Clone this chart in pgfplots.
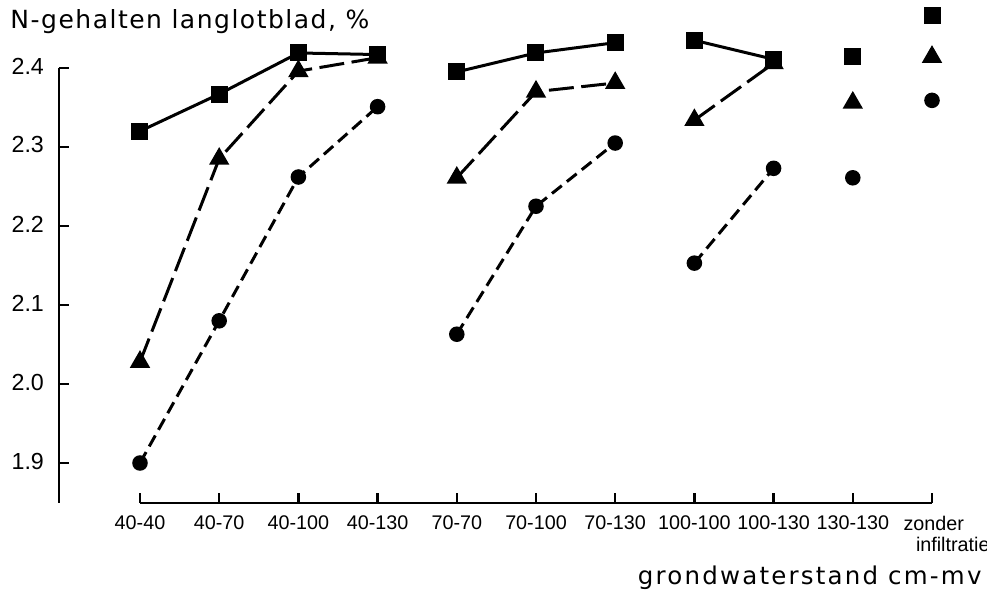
\documentclass[border=0pt]{standalone}
\usepackage{fontspec}
\setmainfont{Liberation Sans}
\newfontfamily\lettering[LetterSpace=6]{DejaVu Sans}
\newfontfamily\letteringx[LetterSpace=9]{DejaVu Sans}
\usepackage{pgfplots}
\pgfplotsset{compat=1.18}
\begin{document}
\begin{tikzpicture}
\begin{axis}[
  name=ax,
  scale only axis,
  width=349.2pt, height=174pt,
  xmin=-1.0227, xmax=10,
  ymin=1.8494, ymax=2.4,
  clip=false,
  axis lines=left,
  axis line style={-, line width=1pt},
  x axis line style={draw=none},
  tick align=inside,
  major tick length=3.8pt,
  tick style={line width=1pt, black},
  xtick={0,1,2,3,4,5,6,7,8,9,10},
  xticklabels={40-40,40-70,40-100,40-130,70-70,70-100,70-130,100-100,100-130,130-130,{}},
  ytick={1.9,2.0,2.1,2.2,2.3,2.4},
  yticklabels={1.9,2.0,2.1,2.2,2.3,2.4},
  /pgf/number format/assume math mode=true,
  xticklabel style={font=\fontsize{7.9}{9}\selectfont, yshift=-1.5pt},
  yticklabel style={font=\fontsize{9.3}{10}\selectfont, xshift=-2.5pt, yshift=0.8pt},
  unbounded coords=jump,
]
% circles, short dashes
\addplot[black, line width=1.2pt, dash pattern=on 5pt off 2.6pt, mark=*, mark size=2.5pt, mark options={solid}]
 coordinates {(0,1.900)(1,2.080)(2,2.262)(3,2.351)(3.5,nan)(4,2.063)(5,2.225)(6,2.305)(6.5,nan)(7,2.153)(8,2.273)(8.5,nan)(9,2.261)(9.5,nan)(10,2.359)};
% triangles, long dashes
\addplot[black, line width=1.2pt, dash pattern=on 10pt off 3pt, mark=triangle*, mark size=3.5pt, mark options={solid}]
 coordinates {(0,2.028)(1,2.285)(2,2.396)(3,2.413)(3.5,nan)(4,2.261)(5,2.370)(6,2.381)(6.5,nan)(7,2.334)(8,2.406)(8.5,nan)(9,2.356)(9.5,nan)(10,2.414)};
% squares, solid
\addplot[black, line width=1.2pt, mark=square*, mark size=2.8pt, mark options={solid}]
 coordinates {(0,2.320)(1,2.367)(2,2.419)(3,2.417)(3.5,nan)(4,2.395)(5,2.419)(6,2.432)(6.5,nan)(7,2.435)(8,2.411)(8.5,nan)(9,2.414)(9.5,nan)(10,2.467)};
\draw[line width=1pt] (axis cs:0,1.8494) -- (axis cs:10,1.8494);
\node[anchor=north west, align=left, inner sep=0pt, font=\fontsize{7.9}{8.4}\selectfont] at ([xshift=-11.6pt, yshift=-5pt]axis cs:10,1.8494) {zonder\\\hspace*{5pt}infiltratie};
\end{axis}
\node[anchor=west, inner sep=0pt, font=\fontsize{10}{12}\selectfont] at ([xshift=-19.6pt, yshift=18.4pt]ax.north west) {\lettering N-gehalten langlotblad, \%};
\node[anchor=east, inner sep=0pt, font=\fontsize{9.8}{12}\selectfont] at ([xshift=20pt, yshift=-30pt]ax.south east) {\letteringx grondwaterstand cm-mv};
\pgfresetboundingbox
\path (ax.south west) ++(-23.6pt,-36pt) rectangle ++(394.8pt,237.2pt);
\end{tikzpicture}
\end{document}
